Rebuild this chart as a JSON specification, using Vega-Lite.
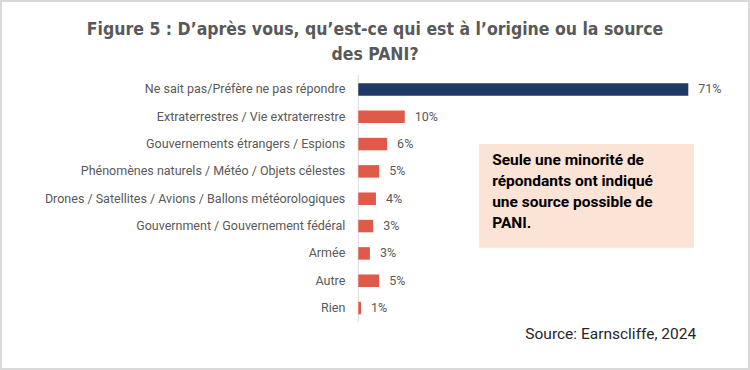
{
  "$schema": "https://vega.github.io/schema/vega-lite/v6.json",
  "width": 748,
  "height": 368,
  "autosize": {"type": "none"},
  "padding": 1,
  "background": "white",
  "config": {"view": {"stroke": "#d9d9d9", "strokeWidth": 2}},
  "title": {
    "text": ["Figure 5 : D’après vous, qu’est-ce qui est à l’origine ou la source", "des PANI?"],
    "font": "DejaVu Sans Condensed, Roboto",
    "fontSize": 17.5,
    "fontWeight": "bold",
    "color": "#595959",
    "lineHeight": 25,
    "anchor": "middle",
    "offset": -62
  },
  "datasets": {
    "bars": [
      {"cat": "Ne sait pas/Préfère ne pas répondre", "rank": 1, "value": 71, "label": "71%", "grp": "main"},
      {"cat": "Extraterrestres / Vie extraterrestre", "rank": 2, "value": 10, "label": "10%", "grp": "other"},
      {"cat": "Gouvernements étrangers / Espions", "rank": 3, "value": 6.2, "label": "6%", "grp": "other"},
      {"cat": "Phénomènes naturels / Météo / Objets célestes", "rank": 4, "value": 4.5, "label": "5%", "grp": "other"},
      {"cat": "Drones / Satellites / Avions / Ballons météorologiques", "rank": 5, "value": 3.8, "label": "4%", "grp": "other"},
      {"cat": "Gouvernment / Gouvernement fédéral", "rank": 6, "value": 3.2, "label": "3%", "grp": "other"},
      {"cat": "Armée", "rank": 7, "value": 2.5, "label": "3%", "grp": "other"},
      {"cat": "Autre", "rank": 8, "value": 4.5, "label": "5%", "grp": "other"},
      {"cat": "Rien", "rank": 9, "value": 0.6, "label": "1%", "grp": "other"}
    ],
    "axisline": [{"y1": 0.47, "y2": 9.5}],
    "box": [{"x1": 26, "x2": 72.2, "y1": 3.0, "y2": 6.79, "note": ["Seule une minorité de", "répondants ont indiqué", "une source possible de", "PANI."], "tx": 28.8}],
    "source": [{"x": 72.7, "y": 10.14, "text": "Source: Earnscliffe, 2024"}]
  },
  "layer": [
    {
      "data": {"name": "box"},
      "mark": {"type": "rect", "color": "#fbe3d6"},
      "encoding": {
        "x": {"field": "x1", "type": "quantitative", "scale": {"domain": [-76.87, 84.06], "nice": false, "zero": false}, "axis": null},
        "x2": {"field": "x2"},
        "y": {"field": "y1", "type": "quantitative", "scale": {"domain": [-2.05, 11.046], "nice": false, "zero": false, "reverse": true}, "axis": null},
        "y2": {"field": "y2"}
      }
    },
    {
      "data": {"name": "box"},
      "mark": {"type": "text", "align": "left", "baseline": "alphabetic", "font": "Roboto", "fontWeight": "bold", "fontSize": 15.5, "lineHeight": 21, "color": "#000000"},
      "encoding": {
        "x": {"field": "tx", "type": "quantitative"},
        "y": {"datum": 3.75, "type": "quantitative"},
        "text": {"field": "note"}
      }
    },
    {
      "data": {"name": "axisline"},
      "mark": {"type": "rule", "color": "#d9d9d9", "strokeWidth": 1},
      "encoding": {
        "x": {"datum": 0, "type": "quantitative"},
        "y": {"field": "y1", "type": "quantitative"},
        "y2": {"field": "y2"}
      }
    },
    {
      "data": {"name": "bars"},
      "mark": {"type": "bar", "orient": "horizontal", "height": 12.5},
      "encoding": {
        "x": {"field": "value", "type": "quantitative"},
        "x2": {"datum": 0},
        "y": {"field": "rank", "type": "quantitative"},
        "color": {"field": "grp", "type": "nominal", "scale": {"domain": ["main", "other"], "range": ["#1f3864", "#e05a4a"]}, "legend": null}
      }
    },
    {
      "data": {"name": "bars"},
      "mark": {"type": "text", "align": "right", "baseline": "middle", "dx": -13, "font": "Roboto", "fontSize": 12.5, "color": "#595959"},
      "encoding": {
        "x": {"datum": 0, "type": "quantitative"},
        "y": {"field": "rank", "type": "quantitative"},
        "text": {"field": "cat"}
      }
    },
    {
      "data": {"name": "bars"},
      "mark": {"type": "text", "align": "left", "baseline": "middle", "dx": 10, "font": "Roboto", "fontSize": 12.5, "color": "#595959"},
      "encoding": {
        "x": {"field": "value", "type": "quantitative"},
        "y": {"field": "rank", "type": "quantitative"},
        "text": {"field": "label"}
      }
    },
    {
      "data": {"name": "source"},
      "mark": {"type": "text", "align": "right", "baseline": "alphabetic", "font": "Roboto", "fontSize": 15.5, "color": "#262626"},
      "encoding": {
        "x": {"field": "x", "type": "quantitative"},
        "y": {"field": "y", "type": "quantitative"},
        "text": {"field": "text"}
      }
    }
  ]
}
